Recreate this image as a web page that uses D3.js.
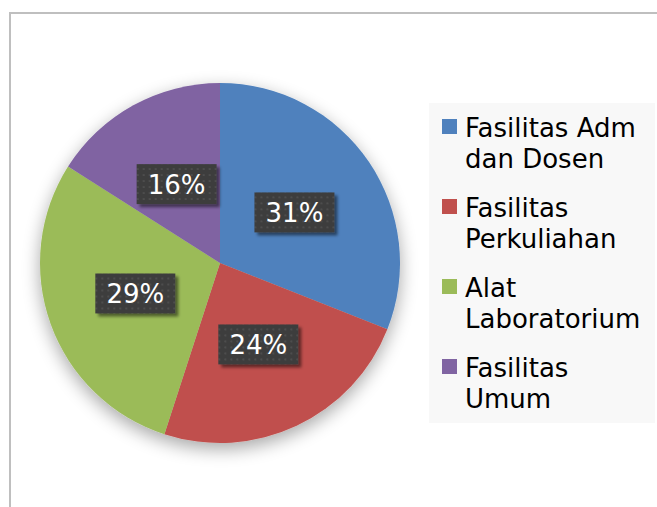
<!DOCTYPE html>
<html><head><meta charset="utf-8">
<script src="https://cdn.jsdelivr.net/npm/d3@7/dist/d3.min.js"></script>
<style>html,body{margin:0;padding:0;background:#fff;}svg{display:block;}</style>
</head><body>
<script>
const categories = ["Fasilitas Adm dan Dosen", "Fasilitas Perkuliahan", "Alat Laboratorium", "Fasilitas Umum"];
const legendLines = [["Fasilitas Adm", "dan Dosen"], ["Fasilitas", "Perkuliahan"], ["Alat", "Laboratorium"], ["Fasilitas", "Umum"]];
const values = [31, 24, 29, 16];
const colors = ["#4f81bd", "#c0504d", "#9bbb59", "#8064a2"];

const W = 657, H = 507;
const svg = d3.select("body").append("svg").attr("width", W).attr("height", H);
const defs = svg.append("defs");

const sh = defs.append("filter").attr("id", "pieShadow").attr("x", "-30%").attr("y", "-30%").attr("width", "160%").attr("height", "160%");
sh.append("feGaussianBlur").attr("in", "SourceAlpha").attr("stdDeviation", 9).attr("result", "b");
sh.append("feOffset").attr("in", "b").attr("dx", 0).attr("dy", 6).attr("result", "o");
sh.append("feComponentTransfer").attr("in", "o").attr("result", "s").append("feFuncA").attr("type", "linear").attr("slope", 0.35);
const m1 = sh.append("feMerge"); m1.append("feMergeNode").attr("in", "s"); m1.append("feMergeNode").attr("in", "SourceGraphic");

const bsh = defs.append("filter").attr("id", "boxShadow").attr("x", "-20%").attr("y", "-20%").attr("width", "150%").attr("height", "160%");
bsh.append("feGaussianBlur").attr("in", "SourceAlpha").attr("stdDeviation", 1.5).attr("result", "b");
bsh.append("feOffset").attr("in", "b").attr("dx", 3).attr("dy", 3).attr("result", "o");
bsh.append("feComponentTransfer").attr("in", "o").attr("result", "s").append("feFuncA").attr("type", "linear").attr("slope", 0.5);
const m2 = bsh.append("feMerge"); m2.append("feMergeNode").attr("in", "s"); m2.append("feMergeNode").attr("in", "SourceGraphic");

const pat = defs.append("pattern").attr("id", "dots").attr("patternUnits", "userSpaceOnUse").attr("width", 6).attr("height", 6);
pat.append("rect").attr("width", 6).attr("height", 6).attr("fill", "#3c3c3c");
pat.append("rect").attr("x", 2).attr("y", 2).attr("width", 2).attr("height", 2).attr("fill", "#4e4e4e");

// chart frame
svg.append("rect").attr("x", 10).attr("y", 13).attr("width", W + 20).attr("height", H + 20)
  .attr("fill", "#fff").attr("stroke", "#bfbfbf").attr("stroke-width", 2);

const cx = 220, cy = 263, r = 180;
const pie = d3.pie().sort(null).value(d => d);
const arcs = pie(values);
const arc = d3.arc().innerRadius(0).outerRadius(r);
const labelArc = d3.arc().innerRadius(0).outerRadius(r);

const g = svg.append("g").attr("transform", `translate(${cx},${cy})`);
g.append("g").attr("filter", "url(#pieShadow)")
  .selectAll("path").data(arcs).join("path")
  .attr("d", arc).attr("fill", (d, i) => colors[i]);

const total = d3.sum(values);
const fmt = v => Math.round(v / total * 100) + "%";
const lab = g.selectAll("g.lab").data(arcs).join("g").attr("class", "lab")
  .attr("transform", d => { const c = labelArc.centroid(d); return `translate(${c[0]},${c[1]})`; });
lab.append("rect").attr("x", -40).attr("y", -20).attr("width", 80).attr("height", 40)
  .attr("fill", "url(#dots)").attr("filter", "url(#boxShadow)");
lab.append("text").attr("text-anchor", "middle").attr("y", 9.5)
  .attr("font-family", "DejaVu Sans, Verdana, sans-serif").attr("font-size", 26).attr("fill", "#fff")
  .text(d => fmt(d.value));

// legend
svg.append("rect").attr("x", 429).attr("y", 103).attr("width", 226).attr("height", 320).attr("fill", "#f8f8f8");
const lg = svg.append("g").selectAll("g").data(categories).join("g")
  .attr("transform", (d, i) => `translate(442,${119 + i * 80})`);
lg.append("rect").attr("width", 15).attr("height", 15).attr("fill", (d, i) => colors[i]);
lg.each(function(d, i) {
  const t = d3.select(this).append("text").attr("font-family", "DejaVu Sans, Verdana, sans-serif")
    .attr("font-size", 26).attr("fill", "#000");
  legendLines[i].forEach((ln, j) => t.append("tspan").attr("x", 23).attr("y", 18 + j * 31).text(ln));
});
</script>
</body></html>
